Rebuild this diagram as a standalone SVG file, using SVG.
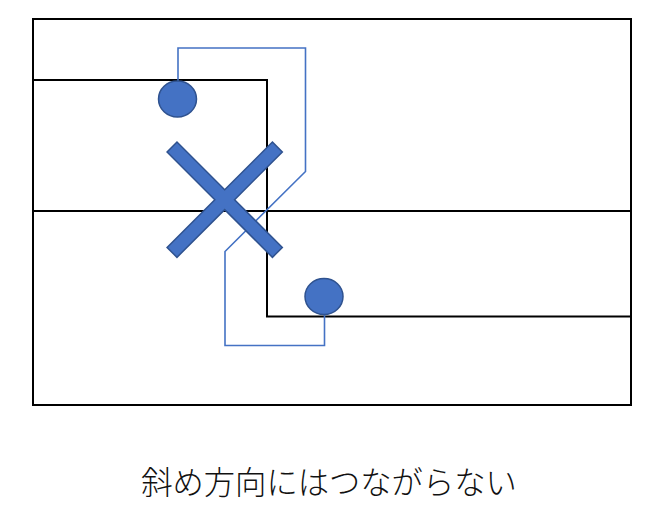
<svg xmlns="http://www.w3.org/2000/svg" width="662" height="526" viewBox="0 0 662 526">
<style>
.frame{fill:none;stroke:#000;stroke-width:2}
.wire{fill:none;stroke:#4472C4;stroke-width:1.6}
.dot{fill:#4472C4;stroke:#2F528F;stroke-width:1.5}
.cross{fill:#4472C4;stroke:#2F528F;stroke-width:1.5}
.cap{font-family:"Noto Sans CJK JP","Noto Sans CJK SC",sans-serif;font-size:31.3px;font-weight:300;fill:#111}
</style>
<rect width="662" height="526" fill="#fff"/>
<g id="frame">
<rect class="frame" x="33" y="19" width="598" height="386"/>
<polyline class="frame" points="33,80 267,80 267,316.5 631,316.5"/>
<line class="frame" x1="33" y1="211" x2="631" y2="211"/>
</g>
<g id="connectors">
<polyline class="wire" points="178,81 178,48 305.5,48 305.5,171.5 225,251.5 225,345.5 324.5,345.5 324.5,314"/>
</g>
<g id="node-top">
<ellipse class="dot" cx="177.5" cy="99" rx="19" ry="18"/>
</g>
<g id="node-bottom">
<ellipse class="dot" cx="324" cy="296.5" rx="19" ry="18"/>
</g>
<g id="cross">
<polygon class="cross" transform="translate(224.7,199.7) rotate(45)" points="-7,-74.5 7,-74.5 7,-7 74.5,-7 74.5,7 7,7 7,74.5 -7,74.5 -7,7 -74.5,7 -74.5,-7 -7,-7"/>
</g>
<g id="caption">
<text class="cap" x="329" y="494" text-anchor="middle">斜め方向にはつながらない</text>
</g>
</svg>
